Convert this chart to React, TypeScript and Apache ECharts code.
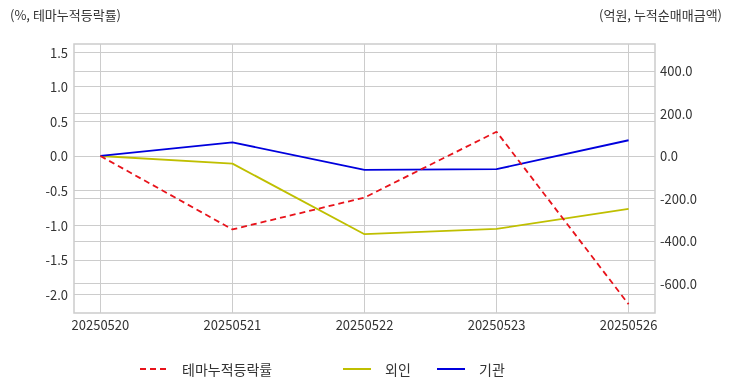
import React, { useEffect, useRef } from "react";
import * as echarts from "echarts";

const categories = ["20250520", "20250521", "20250522", "20250523", "20250526"];
const themeRate = [0.0, -1.06, -0.6, 0.35, -2.14];
const foreign = [0, -36, -368, -343, -249];
const institution = [0, 64, -65, -62, 74];
const leftTicks = [-2.0, -1.5, -1.0, -0.5, 0.0, 0.5, 1.0, 1.5];
const rightTicks = [-600, -400, -200, 0, 200, 400];

const FONT = "'Noto Sans CJK KR', 'Noto Sans', sans-serif";
const TXT = "#333333";
const GRID = "#cccccc";

export default function App() {
  const ref = useRef<HTMLDivElement>(null);
  useEffect(() => {
    if (!ref.current) return;
    const chart = echarts.init(ref.current, undefined, { renderer: "svg" });
    const xIdx = categories.map((_, i) => i);
    const mk = (vals: number[]) => vals.map((v, i) => [i, v]);
    const legendText = { color: TXT, fontSize: 14, fontFamily: FONT, padding: [0, 0, 0, 9] };
    const legendBase = { top: 362, padding: 0, itemWidth: 28, itemHeight: 14, itemStyle: { opacity: 0 }, textStyle: legendText };
    chart.setOption({
      animation: false,
      textStyle: { fontFamily: FONT },
      grid: { left: 74, right: 77, top: 44, bottom: 79, show: true, borderColor: GRID, borderWidth: 1.5 },
      graphic: [
        { type: "text", left: 10, top: 8, style: { text: "(%, 테마누적등락률)", fill: TXT, font: `13px ${FONT}` } },
        { type: "text", right: 10, top: 8, style: { text: "(억원, 누적순매매금액)", fill: TXT, font: `13px ${FONT}` } },
      ],
      legend: [
        { ...legendBase, data: ["테마누적등락률"], left: 139 },
        { ...legendBase, data: ["외인"], left: 342 },
        { ...legendBase, data: ["기관"], left: 436 },
      ],
      xAxis: {
        type: "value",
        min: -0.2,
        max: 4.2,
        axisLine: { show: false },
        axisTick: { show: false, customValues: xIdx },
        axisLabel: {
          customValues: xIdx,
          formatter: (v: number) => categories[Math.round(v)] ?? "",
          color: TXT,
          fontSize: 13,
          margin: 5,
          fontFamily: FONT,
        },
        splitLine: { show: true, lineStyle: { color: GRID, width: 1 } },
      },
      yAxis: [
        {
          type: "value",
          min: -2.266,
          max: 1.616,
          axisLine: { show: false },
          axisTick: { show: false, customValues: leftTicks },
          axisLabel: { customValues: leftTicks, formatter: (v: number) => v.toFixed(1), color: TXT, fontSize: 13, margin: 6, fontFamily: FONT },
          splitLine: { show: true, lineStyle: { color: GRID, width: 1 } },
        },
        {
          type: "value",
          min: -739,
          max: 527,
          axisLine: { show: false },
          axisTick: { show: false, customValues: rightTicks },
          axisLabel: { customValues: rightTicks, formatter: (v: number) => v.toFixed(1), color: TXT, fontSize: 13, margin: 5, fontFamily: FONT },
          splitLine: { show: true, lineStyle: { color: GRID, width: 1 } },
        },
      ],
      series: [
        {
          name: "테마누적등락률",
          type: "line",
          yAxisIndex: 0,
          data: mk(themeRate),
          symbol: "none",
          color: "#e8131b",
          lineStyle: { color: "#e8131b", width: 1.8, type: [6, 4] },
          z: 3,
        },
        {
          name: "외인",
          type: "line",
          yAxisIndex: 1,
          data: mk(foreign),
          symbol: "none",
          color: "#bfbf00",
          lineStyle: { color: "#bfbf00", width: 1.8 },
          z: 2,
        },
        {
          name: "기관",
          type: "line",
          yAxisIndex: 1,
          data: mk(institution),
          symbol: "none",
          color: "#0000dd",
          lineStyle: { color: "#0000dd", width: 1.8 },
          z: 2,
        },
      ],
    });
    return () => chart.dispose();
  }, []);
  return <div ref={ref} style={{ width: 732, height: 392, position: "fixed", left: 0, top: 0 }} />;
}
